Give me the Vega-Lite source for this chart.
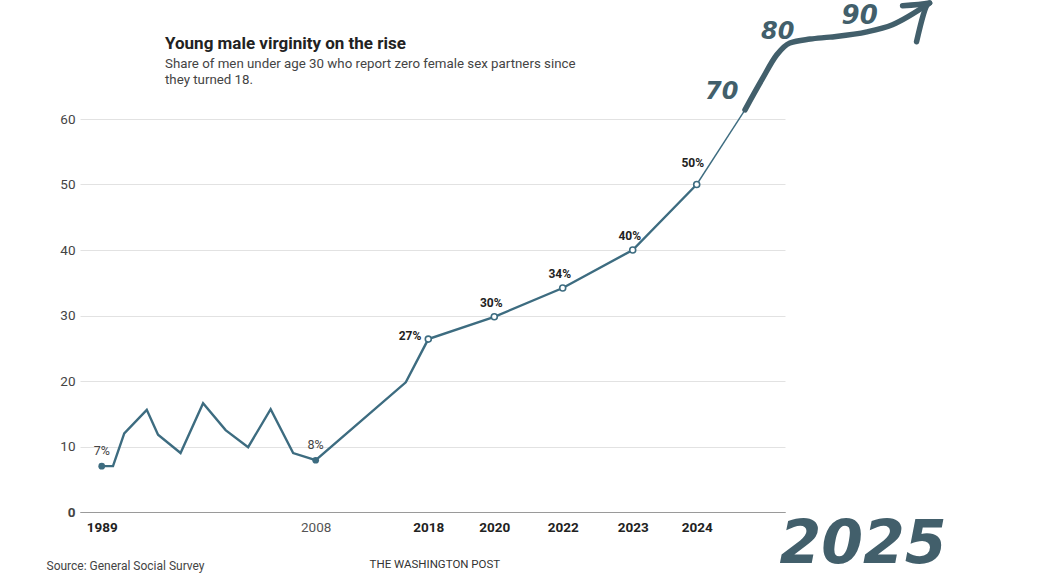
{
  "$schema": "https://vega.github.io/schema/vega-lite/v6.json",
  "width": 705,
  "height": 393,
  "autosize": "none",
  "padding": {"left": 80, "top": 119, "right": 260, "bottom": 74},
  "background": "white",
  "config": {
    "font": "Roboto",
    "view": {"stroke": null}
  },
  "title": {
    "text": "Young male virginity on the rise",
    "subtitle": ["Share of men under age 30 who report zero female sex partners since", "they turned 18."],
    "anchor": "start",
    "frame": "group",
    "dx": 85,
    "offset": 31,
    "dy": 118,
    "font": "Roboto",
    "fontSize": 17,
    "fontWeight": "bold",
    "color": "#222222",
    "subtitleFont": "Roboto",
    "subtitleFontSize": 13.3,
    "subtitleColor": "#444444",
    "subtitlePadding": 4,
    "subtitleLineHeight": 16
  },
  "datasets": {
    "survey": [
      {"year": 1989, "share": 7, "label": "7%"},
      {"year": 1990, "share": 7},
      {"year": 1991, "share": 12},
      {"year": 1993, "share": 15.6},
      {"year": 1994, "share": 11.8},
      {"year": 1996, "share": 9},
      {"year": 1998, "share": 16.6},
      {"year": 2000, "share": 12.5},
      {"year": 2002, "share": 9.9},
      {"year": 2004, "share": 15.7},
      {"year": 2006, "share": 9},
      {"year": 2008, "share": 7.9, "label": "8%"},
      {"year": 2016, "share": 19.8},
      {"year": 2018, "share": 26.4, "label": "27%"},
      {"year": 2020, "share": 29.8, "label": "30%"},
      {"year": 2022, "share": 34.2, "label": "34%"},
      {"year": 2023, "share": 40, "label": "40%"},
      {"year": 2024, "share": 50, "label": "50%"}
    ],
    "extension": [
      {"year": 2024, "share": 50},
      {"year": 2025, "share": 61.4}
    ],
    "scribble": [
      {"stroke": "shaft", "i": 0, "year": 2025.0, "share": 61.4},
      {"stroke": "shaft", "i": 1, "year": 2025.35, "share": 66.0},
      {"stroke": "shaft", "i": 2, "year": 2025.66, "share": 69.8},
      {"stroke": "shaft", "i": 3, "year": 2025.93, "share": 71.6},
      {"stroke": "shaft", "i": 4, "year": 2026.35, "share": 72.2},
      {"stroke": "shaft", "i": 5, "year": 2026.76, "share": 72.5},
      {"stroke": "shaft", "i": 6, "year": 2027.53, "share": 73.3},
      {"stroke": "shaft", "i": 7, "year": 2028.06, "share": 74.4},
      {"stroke": "shaft", "i": 8, "year": 2028.83, "share": 77.7},
      {"stroke": "head", "i": 0, "year": 2028.27, "share": 77.3},
      {"stroke": "head", "i": 1, "year": 2028.83, "share": 77.7},
      {"stroke": "head", "i": 2, "year": 2028.56, "share": 71.8}
    ],
    "notes": [
      {"year": 2024.52, "share": 64.1, "note": "70", "size": 24},
      {"year": 2025.68, "share": 73.3, "note": "80", "size": 24},
      {"year": 2027.38, "share": 75.7, "note": "90", "size": 26},
      {"year": 2027.45, "share": -5.0, "note": "2025", "size": 60}
    ]
  },
  "encoding": {
    "x": {
      "field": "year",
      "type": "quantitative",
      "scale": {
        "domain": [1987.07, 2018, 2020, 2022, 2023, 2024, 2025, 2025.83],
        "range": [0, 348.3, 414.3, 482.7, 552.7, 616.7, 665, 705],
        "nice": false,
        "zero": false
      },
      "axis": {
        "values": [1989, 2008, 2018, 2020, 2022, 2023, 2024],
        "format": "d",
        "ticks": false,
        "grid": false,
        "labelFlush": false,
        "domainColor": "#9a9a9a",
        "labelFont": "Roboto",
        "labelFontSize": 13.5,
        "labelPadding": 8,
        "labelFontWeight": {"condition": {"test": "datum.value == 2008", "value": "normal"}, "value": "bold"},
        "labelColor": {"condition": {"test": "datum.value == 2008", "value": "#555555"}, "value": "#222222"},
        "title": "Source: General Social Survey",
        "titleAnchor": "start",
        "titleAlign": "left",
        "titleX": -34,
        "titleY": 53,
        "titleBaseline": "middle",
        "titleFont": "Roboto",
        "titleFontSize": 12,
        "titleFontWeight": "normal",
        "titleColor": "#444444"
      }
    },
    "y": {
      "field": "share",
      "type": "quantitative",
      "scale": {"domain": [0, 60], "nice": false},
      "axis": {
        "values": [0, 10, 20, 30, 40, 50, 60],
        "domain": false,
        "ticks": false,
        "gridColor": {"condition": {"test": "datum.value == 0", "value": "#9a9a9a"}, "value": "#e2e2e2"},
        "labelPadding": 5,
        "labelFont": "Roboto",
        "labelFontSize": 13.5,
        "labelColor": "#444444",
        "labelFontWeight": {"condition": {"test": "datum.value == 0", "value": "bold"}, "value": "normal"},
        "title": null
      }
    }
  },
  "layer": [
    {
      "data": {"name": "survey"},
      "mark": {"type": "line", "color": "#3d6c80", "strokeWidth": 2.4, "strokeJoin": "miter"}
    },
    {
      "data": {"name": "extension"},
      "mark": {"type": "line", "color": "#3d6c80", "strokeWidth": 1.4}
    },
    {
      "data": {"name": "survey"},
      "transform": [{"filter": "datum.year == 1989 || datum.year == 2008"}],
      "mark": {"type": "circle", "color": "#3d6c80", "size": 45, "opacity": 1}
    },
    {
      "data": {"name": "survey"},
      "transform": [{"filter": "datum.year >= 2018"}],
      "mark": {"type": "point", "shape": "circle", "filled": false, "fill": "white", "stroke": "#3d6c80", "strokeWidth": 1.6, "size": 36, "opacity": 1}
    },
    {
      "data": {"name": "survey"},
      "transform": [{"filter": "datum.year == 1989 || datum.year == 2008"}],
      "mark": {"type": "text", "dy": -15, "fontSize": 12.5, "color": "#444444", "font": "Roboto"},
      "encoding": {"text": {"field": "label"}}
    },
    {
      "data": {"name": "survey"},
      "transform": [{"filter": "datum.year == 2018"}],
      "mark": {"type": "text", "align": "right", "dx": -7, "dy": -3, "fontSize": 12, "fontWeight": "bold", "color": "#222222", "font": "Roboto"},
      "encoding": {"text": {"field": "label"}}
    },
    {
      "data": {"name": "survey"},
      "transform": [{"filter": "datum.year >= 2020 && datum.year <= 2023"}],
      "mark": {"type": "text", "dx": -3, "dy": -14, "fontSize": 12, "fontWeight": "bold", "color": "#222222", "font": "Roboto"},
      "encoding": {"text": {"field": "label"}}
    },
    {
      "data": {"name": "survey"},
      "transform": [{"filter": "datum.year == 2024"}],
      "mark": {"type": "text", "dx": -4, "dy": -22, "fontSize": 12, "fontWeight": "bold", "color": "#222222", "font": "Roboto"},
      "encoding": {"text": {"field": "label"}}
    },
    {
      "data": {"values": [{"year": 2018.2, "share": -8.1, "note": "THE WASHINGTON POST"}]},
      "mark": {"type": "text", "fontSize": 11.5, "color": "#333333", "font": "Roboto"},
      "encoding": {"text": {"field": "note"}}
    },
    {
      "data": {"name": "scribble"},
      "mark": {"type": "line", "color": "#425f6b", "strokeWidth": 5.5, "strokeCap": "round", "strokeJoin": "round", "interpolate": "monotone"},
      "encoding": {
        "detail": {"field": "stroke"},
        "order": {"field": "i"}
      }
    },
    {
      "data": {"name": "notes"},
      "mark": {"type": "text", "color": "#425f6b", "font": "DejaVu Sans", "fontWeight": "bold", "fontStyle": "italic"},
      "encoding": {
        "text": {"field": "note"},
        "size": {"field": "size", "type": "quantitative", "scale": null}
      }
    }
  ]
}
